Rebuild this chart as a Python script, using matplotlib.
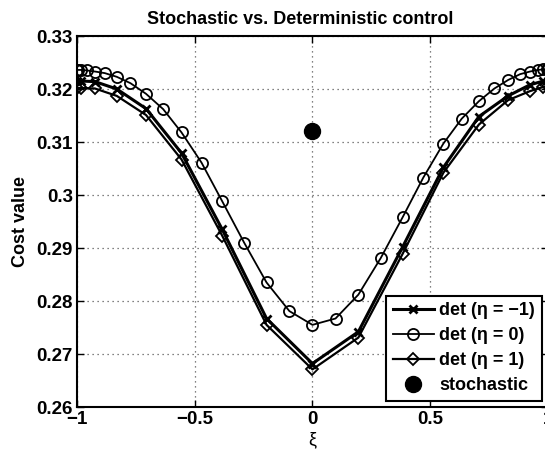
import numpy as np
import matplotlib.pyplot as plt

plt.rcParams['font.family'] = ['Liberation Sans', 'DejaVu Sans']
plt.rcParams['font.weight'] = 'bold'

# x positions of the samples
xi_fine = [-1.0, -0.995, -0.981, -0.957, -0.924, -0.882, -0.831, -0.773, -0.707,
           -0.634, -0.556, -0.471, -0.383, -0.290, -0.195, -0.098, 0.0,
           0.098, 0.195, 0.290, 0.383, 0.471, 0.556, 0.634, 0.707,
           0.773, 0.831, 0.882, 0.924, 0.957, 0.981, 0.995, 1.0]
xi_coarse = [-1.0, -0.981, -0.924, -0.831, -0.707, -0.556, -0.383, -0.195, 0.0,
             0.195, 0.383, 0.556, 0.707, 0.831, 0.924, 0.981, 1.0]

# cost values
cost_eta_m1 = [0.3215, 0.3215, 0.3214, 0.3200, 0.3163, 0.3079, 0.2935, 0.2767, 0.2682,
               0.2742, 0.2902, 0.3052, 0.3148, 0.3187, 0.3208, 0.3215, 0.3216]
cost_eta_0 = [0.3236, 0.3236, 0.3236, 0.3235, 0.3233, 0.3230, 0.3223, 0.3211, 0.3191,
              0.3162, 0.3118, 0.3061, 0.2988, 0.2910, 0.2835, 0.2781, 0.2755,
              0.2767, 0.2812, 0.2881, 0.2958, 0.3033, 0.3097, 0.3144, 0.3177,
              0.3201, 0.3217, 0.3228, 0.3233, 0.3236, 0.3237, 0.3237, 0.3237]
cost_eta_p1 = [0.3202, 0.3202, 0.3201, 0.3187, 0.3151, 0.3067, 0.2923, 0.2755, 0.2671,
               0.2731, 0.2889, 0.3042, 0.3133, 0.3179, 0.3196, 0.3204, 0.3205]
stoch_xi = [0.0]
stoch_cost = [0.3121]

fig = plt.figure(figsize=(5.45, 4.53), dpi=100)
ax = fig.add_axes([0.1413, 0.1015, 0.864, 0.819])

ax.plot(xi_coarse, cost_eta_m1, color='k', lw=2.2, marker='x', ms=6, mew=2,
        label='det (η = −1)')
ax.plot(xi_fine, cost_eta_0, color='k', lw=1.3, marker='o', ms=8, mew=1.3,
        mfc='none', label='det (η = 0)')
ax.plot(xi_coarse, cost_eta_p1, color='k', lw=1.6, marker='D', ms=6, mew=1.3,
        mfc='none', label='det (η = 1)')
ax.plot(stoch_xi, stoch_cost, 'o', color='k', ms=11.5, ls='none', label='stochastic')

ax.set_xlim(-1, 1)
ax.set_ylim(0.26, 0.33)
ax.set_xticks([-1, -0.5, 0, 0.5, 1])
ax.set_xticklabels(['−1', '−0.5', '0', '0.5', '1'])
ax.set_yticks(np.arange(0.26, 0.3301, 0.01))
ax.set_yticklabels(['0.26', '0.27', '0.28', '0.29', '0.3', '0.31', '0.32', '0.33'])
ax.tick_params(direction='in', length=5, width=1, top=True, right=True,
               labelsize=13.5, pad=3)
ax.grid(True, ls=(0, (1, 3)), color='0.35', lw=0.9)
for s in ax.spines.values():
    s.set_linewidth(1.5)

ax.set_title('Stochastic vs. Deterministic control', fontsize=13, fontweight='bold',
             x=0.473, pad=9)
ax.set_ylabel('Cost value', fontsize=13, fontweight='bold', labelpad=5)
ax.set_xlabel('ξ', fontsize=13, fontweight='normal', labelpad=2)

leg = ax.legend(loc='lower right', fontsize=13, fancybox=False, framealpha=1,
                edgecolor='k', borderpad=0.35, labelspacing=0.45, handlelength=2.3,
                handletextpad=0.3, borderaxespad=0.35)
leg.get_frame().set_linewidth(1.5)

fig.savefig('out.png', dpi=100)
